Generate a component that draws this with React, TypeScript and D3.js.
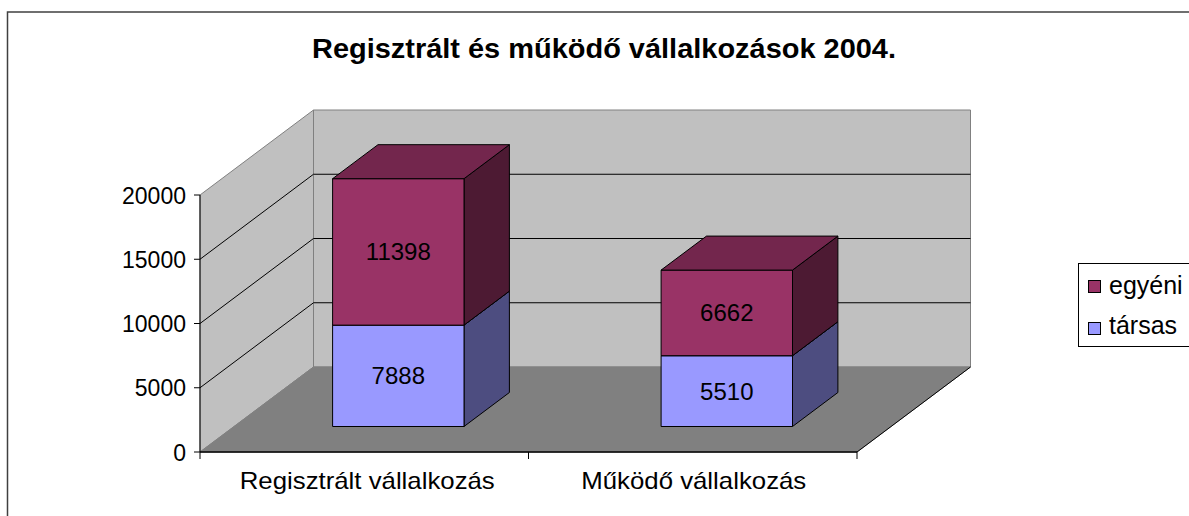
import React from "react";
import * as d3 from "d3";

const title = "Regisztrált és működő vállalkozások 2004.";
const categories = ["Regisztrált vállalkozás", "Működő vállalkozás"];
const seriesNames = ["társas", "egyéni"];
const tarsas = [7888, 5510];
const egyeni = [11398, 6662];
const yTicks = [0, 5000, 10000, 15000, 20000];
const legendOrder = ["egyéni", "társas"];

const colors: Record<string, { front: string; top: string; side: string }> = {
  "társas": { front: "#9999ff", top: "#7373bf", side: "#4d4d80" },
  "egyéni": { front: "#993366", top: "#73264d", side: "#4d1a33" },
};

const FONT = "'Liberation Sans', Arial, sans-serif";

export default function App() {
  const W = 1189, H = 516;
  const x0 = 200, x1 = 857;
  const DX = 113.5, DY = 85;
  const y = d3.scaleLinear().domain([0, 20000]).range([452, 195]);
  const x = d3.scaleBand<string>().domain(categories).range([x0, x1]).paddingInner(0.6).paddingOuter(0.3);
  const zFront = 0.3, zBack = 0.7;
  const P = (px: number, v: number, z: number) => [px + z * DX, y(v) - z * DY];
  const pts = (arr: number[][]) => arr.map((p) => p.join(",")).join(" ");

  const stack = d3.stack<any>().keys(seriesNames)(
    categories.map((c, i) => ({ cat: c, "társas": tarsas[i], "egyéni": egyeni[i] }))
  );

  const wallFill = "#c0c0c0";
  const floorFill = "#808080";
  const edge = "#808080";

  const bars: React.ReactNode[] = [];
  categories.forEach((c, i) => {
    const bx0 = x(c)!;
    const bx1 = bx0 + x.bandwidth();
    stack.forEach((s) => {
      const [v0, v1] = s[i];
      const col = colors[s.key];
      const fl = P(bx0, v0, zFront), fr = P(bx1, v0, zFront);
      const tl = P(bx0, v1, zFront), tr = P(bx1, v1, zFront);
      const brb = P(bx1, v0, zBack), brt = P(bx1, v1, zBack), blt = P(bx0, v1, zBack);
      const cx = (fl[0] + fr[0]) / 2;
      const cy = (fl[1] + tl[1]) / 2;
      bars.push(
        <g key={c + s.key}>
          <polygon points={pts([fr, brb, brt, tr])} fill={col.side} stroke="#000" strokeWidth={1} strokeLinejoin="round" />
          <polygon points={pts([fl, fr, tr, tl])} fill={col.front} stroke="#000" strokeWidth={1} strokeLinejoin="round" />
          <polygon points={pts([tl, tr, brt, blt])} fill={col.top} stroke="#000" strokeWidth={1} strokeLinejoin="round" />
          <text x={cx} y={cy + 8.5} textAnchor="middle" fontSize={24} fontFamily={FONT} fill="#000">
            {String(v1 - v0)}
          </text>
        </g>
      );
    });
  });

  return (
    <svg width={W} height={H} style={{ position: "absolute", left: 0, top: 0, background: "#fff" }}>
      <rect x={7.5} y={12} width={1300} height={600} fill="#fff" stroke="#404040" strokeWidth={1.5} />
      <text x={604} y={58} textAnchor="middle" fontSize={27} fontWeight="bold" fontFamily={FONT} textLength={584} lengthAdjust="spacingAndGlyphs">
        {title}
      </text>

      {/* back wall */}
      <polygon points={pts([P(x0, 0, 1), P(x1, 0, 1), P(x1, 20000, 1), P(x0, 20000, 1)])} fill={wallFill} stroke={edge} strokeWidth={1} />
      {/* side wall */}
      <polygon points={pts([P(x0, 0, 0), P(x0, 0, 1), P(x0, 20000, 1), P(x0, 20000, 0)])} fill={wallFill} stroke={edge} strokeWidth={1} />
      {/* floor */}
      <polygon points={pts([P(x0, 0, 0), P(x1, 0, 0), P(x1, 0, 1), P(x0, 0, 1)])} fill={floorFill} stroke={edge} strokeWidth={1} />
      <line x1={P(x1, 0, 0)[0]} y1={P(x1, 0, 0)[1]} x2={P(x1, 0, 1)[0]} y2={P(x1, 0, 1)[1]} stroke="#000" strokeWidth={1} />
      {/* gridlines */}
      {yTicks.filter((t) => t > 0 && t < 20000).map((t) => (
        <g key={"g" + t}>
          <line x1={P(x0, t, 0)[0]} y1={P(x0, t, 0)[1]} x2={P(x0, t, 1)[0]} y2={P(x0, t, 1)[1]} stroke="#000" strokeWidth={1} />
          <line x1={P(x0, t, 1)[0]} y1={P(x0, t, 1)[1]} x2={P(x1, t, 1)[0]} y2={P(x1, t, 1)[1]} stroke="#000" strokeWidth={1} />
        </g>
      ))}

      {bars}

      {/* value axis */}
      <line x1={x0} y1={y(0)} x2={x0} y2={y(20000)} stroke="#000" strokeWidth={1} />
      {yTicks.map((t) => (
        <g key={"t" + t}>
          <line x1={x0 - 6} y1={y(t)} x2={x0} y2={y(t)} stroke="#000" strokeWidth={1} />
          <text x={186} y={y(t) + 8.5} textAnchor="end" fontSize={23} fontFamily={FONT} fill="#000">
            {String(t)}
          </text>
        </g>
      ))}
      {/* category axis */}
      <line x1={x0} y1={y(0)} x2={x1} y2={y(0)} stroke="#000" strokeWidth={1.5} />
      {[x0, (x0 + x1) / 2, x1].map((px, i) => (
        <line key={"ct" + i} x1={px} y1={y(0)} x2={px} y2={y(0) + 7} stroke="#000" strokeWidth={1} />
      ))}
      {categories.map((c, i) => (
        <text key={"c" + c} x={x(c)! + x.bandwidth() / 2 + (i === 0 ? 3 : 1)} y={489} textAnchor="middle" fontSize={24} fontFamily={FONT} fill="#000"
          textLength={i === 0 ? 255 : 225} lengthAdjust="spacingAndGlyphs">
          {c}
        </text>
      ))}

      {/* legend */}
      <rect x={1078.5} y={263.5} width={200} height={83} fill="#fff" stroke="#000" strokeWidth={1} />
      {legendOrder.map((k, i) => (
        <g key={"l" + k}>
          <rect x={1088.5} y={280.5 + i * 42} width={12} height={12} fill={colors[k].front} stroke="#000" strokeWidth={1} />
          <text x={1109} y={294 + i * 40} fontSize={25} fontFamily={FONT} fill="#000">{k}</text>
        </g>
      ))}
    </svg>
  );
}
